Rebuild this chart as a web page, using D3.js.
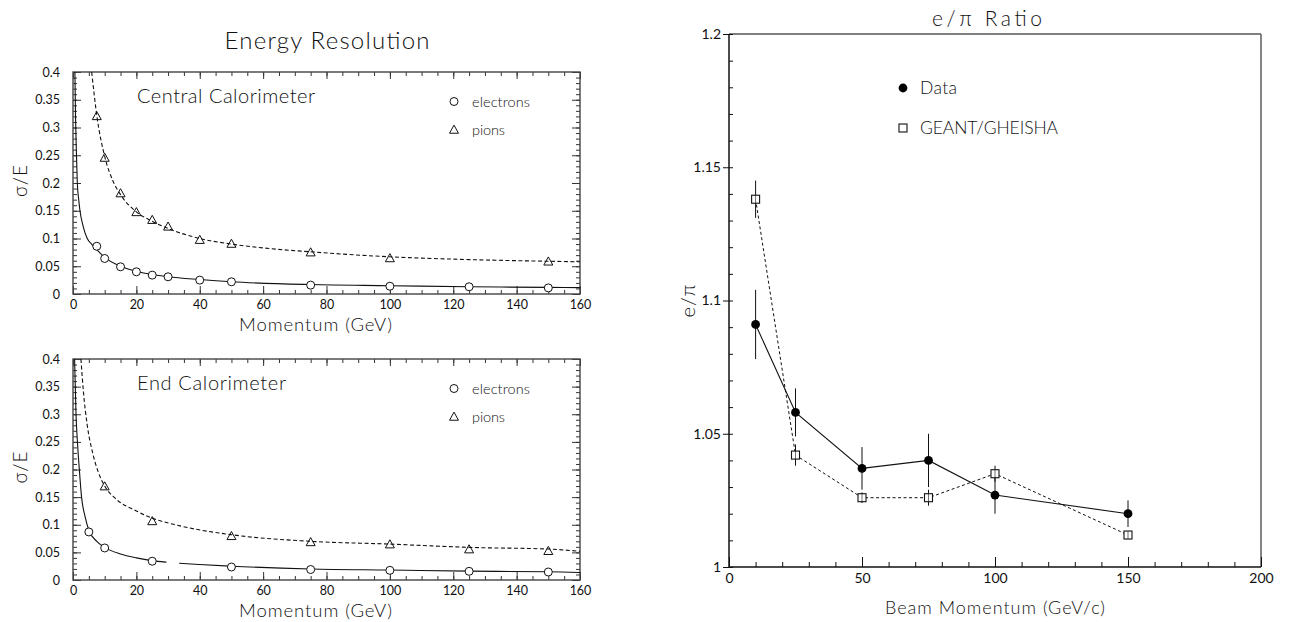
<!DOCTYPE html>
<html>
<head>
<meta charset="utf-8">
<script src="https://cdn.jsdelivr.net/npm/d3@7"></script>
<style>
  html, body { margin: 0; padding: 0; background: #fff; }
  svg { display: block; }
  text { font-family: "Lato", "DejaVu Sans", sans-serif; font-weight: 300; fill: #111; }
</style>
</head>
<body>
<svg id="chart" width="1293" height="622"></svg>
<script>
// ---------------- DATA ----------------
// Energy resolution, Central Calorimeter
const centralElecP   = [7.5, 10, 15, 20, 25, 30, 40, 50, 75, 100, 125, 150];
const centralElecRes = [0.086, 0.064, 0.049, 0.040, 0.034, 0.031, 0.025, 0.022, 0.016, 0.014, 0.013, 0.011];
const centralPionP   = [7.5, 10, 15, 20, 25, 30, 40, 50, 75, 100, 150];
const centralPionRes = [0.320, 0.245, 0.181, 0.147, 0.133, 0.121, 0.097, 0.090, 0.0745, 0.064, 0.058];
// fitted curves
const centralElecFitP = [0.6, 0.8, 1.0, 1.36, 1.8, 2.2, 3.2, 4.5, 6, 7.5, 10, 15, 20, 25, 30, 40, 50, 75, 100, 125, 150, 160];
const centralElecFitR = [0.40, 0.32, 0.27, 0.20, 0.17, 0.15, 0.122, 0.100, 0.089, 0.080, 0.066, 0.050, 0.041, 0.035, 0.031, 0.026, 0.022, 0.017, 0.015, 0.013, 0.012, 0.0115];
const centralPionFitP = [5.9, 7.5, 10, 12.5, 15, 20, 25, 30, 40, 50, 60, 75, 100, 125, 150, 160];
const centralPionFitR = [0.40, 0.322, 0.248, 0.205, 0.179, 0.148, 0.131, 0.118, 0.100, 0.090, 0.083, 0.076, 0.067, 0.062, 0.059, 0.058];

// Energy resolution, End Calorimeter
const endElecP   = [5, 10, 25, 50, 75, 100, 125, 150];
const endElecRes = [0.087, 0.058, 0.034, 0.0235, 0.019, 0.0175, 0.0157, 0.0145];
const endPionP   = [10, 25, 50, 75, 100, 125, 150];
const endPionRes = [0.169, 0.106, 0.079, 0.068, 0.064, 0.055, 0.052];
const endElecFitP = [0.5, 0.95, 1.4, 2.0, 2.7, 3.8, 5, 7.5, 10, 15, 20, 25, 30, 40, 50, 75, 100, 125, 150, 160];
const endElecFitR = [0.40, 0.30, 0.25, 0.20, 0.15, 0.115, 0.090, 0.070, 0.059, 0.047, 0.040, 0.035, 0.032, 0.028, 0.025, 0.020, 0.018, 0.016, 0.015, 0.0135];
const endElecFitGap = [29.5, 33.5];   // small break visible in the solid fit line
const endPionFitP = [2.5, 3.3, 4.5, 6.2, 8, 10, 13.3, 20, 25, 33, 50, 75, 100, 125, 150, 160];
const endPionFitR = [0.40, 0.34, 0.28, 0.23, 0.195, 0.17, 0.148, 0.125, 0.112, 0.099, 0.082, 0.070, 0.065, 0.059, 0.056, 0.052];

// e/pi ratio
const beamMomentum = [10, 25, 50, 75, 100, 150];
const dataRatio    = [1.091, 1.058, 1.037, 1.040, 1.027, 1.020];
const dataErr      = [0.013, 0.009, 0.008, 0.010, 0.007, 0.005];
const geantRatio   = [1.138, 1.042, 1.026, 1.026, 1.035, 1.012];
const geantErr     = [0.007, 0.004, 0.002, 0.003, 0.003, 0.001];

// tick values
const resXMajor = [0, 20, 40, 60, 80, 100, 120, 140, 160];
const resYMajor = [0, 0.05, 0.1, 0.15, 0.2, 0.25, 0.3, 0.35, 0.4];
const resYLabels = ["0", "0.05", "0.1", "0.15", "0.2", "0.25", "0.3", "0.35", "0.4"];
const ratioXMajor = [0, 50, 100, 150, 200];
const ratioYMajor = [1, 1.05, 1.1, 1.15, 1.2];
const ratioYLabels = ["1", "1.05", "1.1", "1.15", "1.2"];

// ---------------- DRAWING ----------------
const svg = d3.select("#chart");
const zip = (a, b) => a.map((v, i) => [v, b[i]]);

function minorTicks(lo, hi, step) {
  const out = [];
  const n = Math.round((hi - lo) / step);
  for (let i = 0; i <= n; i++) out.push(+(lo + i * step).toFixed(6));
  return out;
}

function triangle(g, cx, cy, s) {
  const h = s * 0.9;
  g.append("path")
    .attr("d", `M${cx},${cy - h * 0.6}L${cx + s / 2},${cy + h * 0.4}L${cx - s / 2},${cy + h * 0.4}Z`)
    .attr("fill", "none").attr("stroke", "#111").attr("stroke-width", 1);
}

function label(parent, x, y, str, size, width, anchor) {
  const t = parent.append("text").attr("x", x).attr("y", y).attr("dy", "0.35em")
    .style("font-size", size + "px").text(str);
  if (anchor) t.attr("text-anchor", anchor);
  if (width) t.attr("textLength", width).attr("lengthAdjust", "spacing");
  return t;
}

function resolutionPanel(opt) {
  const x = d3.scaleLinear().domain([0, 160]).range([opt.left, opt.right]);
  const y = d3.scaleLinear().domain([0, 0.4]).range([opt.bottom, opt.top]);
  const g = svg.append("g");

  const xMinor = minorTicks(0, 160, 5);
  const yMinor = minorTicks(0, 0.4, 0.01);
  const axisStyle = sel => {
    sel.select(".domain").remove();
    sel.selectAll(".tick line").attr("stroke", "#333").attr("stroke-width", 1);
    sel.selectAll("text").attr("fill", "#111").style("font-family", "Lato, DejaVu Sans").style("font-weight", 400).style("font-size", "12.5px");
  };

  // minor ticks, all four sides
  g.append("g").attr("transform", `translate(0,${opt.bottom})`)
    .call(d3.axisBottom(x).tickValues(xMinor).tickSize(-4).tickFormat("")).call(axisStyle);
  g.append("g").attr("transform", `translate(0,${opt.top})`)
    .call(d3.axisTop(x).tickValues(xMinor).tickSize(-4).tickFormat("")).call(axisStyle);
  g.append("g").attr("transform", `translate(${opt.left},0)`)
    .call(d3.axisLeft(y).tickValues(yMinor).tickSize(-4).tickFormat("")).call(axisStyle);
  g.append("g").attr("transform", `translate(${opt.right},0)`)
    .call(d3.axisRight(y).tickValues(yMinor).tickSize(-4).tickFormat("")).call(axisStyle);

  // major ticks
  g.append("g").attr("transform", `translate(0,${opt.bottom})`)
    .call(d3.axisBottom(x).tickValues(resXMajor).tickSize(-8).tickPadding(6).tickFormat(d3.format("d"))).call(axisStyle);
  g.append("g").attr("transform", `translate(0,${opt.top})`)
    .call(d3.axisTop(x).tickValues(resXMajor).tickSize(-7).tickFormat("")).call(axisStyle);
  g.append("g").attr("transform", `translate(${opt.left},0)`)
    .call(d3.axisLeft(y).tickValues(resYMajor).tickSize(-8).tickPadding(13).tickFormat((d, i) => resYLabels[i])).call(axisStyle);
  g.append("g").attr("transform", `translate(${opt.right},0)`)
    .call(d3.axisRight(y).tickValues(resYMajor).tickSize(-8).tickFormat("")).call(axisStyle);

  // frame
  g.append("rect").attr("x", opt.left).attr("y", opt.top)
    .attr("width", opt.right - opt.left).attr("height", opt.bottom - opt.top)
    .attr("fill", "none").attr("stroke", "#444").attr("stroke-width", 1.4);

  // clips for curves
  const clipId = "clip" + opt.id;
  svg.append("clipPath").attr("id", clipId).append("rect")
    .attr("x", opt.left).attr("y", opt.top).attr("width", opt.right - opt.left).attr("height", opt.bottom - opt.top);
  const elecClipId = "eclip" + opt.id;
  const ec = svg.append("clipPath").attr("id", elecClipId);
  if (opt.elecGap) {
    ec.append("rect").attr("x", opt.left).attr("y", opt.top)
      .attr("width", x(opt.elecGap[0]) - opt.left).attr("height", opt.bottom - opt.top);
    ec.append("rect").attr("x", x(opt.elecGap[1])).attr("y", opt.top)
      .attr("width", opt.right - x(opt.elecGap[1])).attr("height", opt.bottom - opt.top);
  } else {
    ec.append("rect").attr("x", opt.left).attr("y", opt.top)
      .attr("width", opt.right - opt.left).attr("height", opt.bottom - opt.top);
  }

  const line = d3.line().x(d => x(d[0])).y(d => y(d[1])).curve(d3.curveMonotoneX);
  g.append("path").datum(zip(opt.elecFitP, opt.elecFitR)).attr("d", line)
    .attr("clip-path", `url(#${elecClipId})`)
    .attr("fill", "none").attr("stroke", "#111").attr("stroke-width", 1.1);
  g.append("path").datum(zip(opt.pionFitP, opt.pionFitR)).attr("d", line)
    .attr("clip-path", `url(#${clipId})`)
    .attr("fill", "none").attr("stroke", "#111").attr("stroke-width", 1.1)
    .attr("stroke-dasharray", "4,2.5");

  // markers
  zip(opt.elecP, opt.elecR).forEach(d => {
    g.append("circle").attr("cx", x(d[0])).attr("cy", y(d[1])).attr("r", 4)
      .attr("fill", "#fff").attr("stroke", "#111").attr("stroke-width", 1);
  });
  zip(opt.pionP, opt.pionR).forEach(d => triangle(g, x(d[0]), y(d[1]), 9));

  // labels
  label(g, opt.left + 64, opt.top + 24, opt.label, 20, opt.labelWidth);
  g.append("circle").attr("cx", 454).attr("cy", opt.top + 29.5).attr("r", 4)
    .attr("fill", "#fff").attr("stroke", "#111");
  label(g, 472, opt.top + 29.5, "electrons", 14.5, 58);
  triangle(g, 454, opt.top + 58, 9);
  label(g, 472, opt.top + 58, "pions", 14.5, 33);

  label(g, (opt.left + opt.right) / 2 - 11, opt.bottom + 31, "Momentum (GeV)", 18.5, 153, "middle");
  g.append("text").attr("transform", `translate(20,${(opt.top + opt.bottom) / 2 - 2}) rotate(-90)`)
    .attr("text-anchor", "middle").attr("dy", "0.35em").style("font-size", "19px")
    .attr("textLength", 32).attr("lengthAdjust", "spacing").text("σ/E");
}

label(svg, 327, 41, "Energy Resolution", 24, 205, "middle");

resolutionPanel({
  id: "c", left: 73, right: 580, top: 72, bottom: 294, label: "Central Calorimeter", labelWidth: 178,
  elecP: centralElecP, elecR: centralElecRes, pionP: centralPionP, pionR: centralPionRes,
  elecFitP: centralElecFitP, elecFitR: centralElecFitR, pionFitP: centralPionFitP, pionFitR: centralPionFitR
});
resolutionPanel({
  id: "e", left: 73, right: 580, top: 359, bottom: 580, label: "End Calorimeter", labelWidth: 149,
  elecP: endElecP, elecR: endElecRes, pionP: endPionP, pionR: endPionRes,
  elecFitP: endElecFitP, elecFitR: endElecFitR, pionFitP: endPionFitP, pionFitR: endPionFitR,
  elecGap: endElecFitGap
});

// ---------------- e/pi ratio panel ----------------
(function () {
  const L = 729, R = 1261, T = 34, B = 567;
  const x = d3.scaleLinear().domain([0, 200]).range([L, R]);
  const y = d3.scaleLinear().domain([1, 1.2]).range([B, T]);
  const g = svg.append("g");
  const axisStyle = sel => {
    sel.select(".domain").remove();
    sel.selectAll(".tick line").attr("stroke", "#111").attr("stroke-width", 1);
    sel.selectAll("text").attr("fill", "#111").style("font-family", "Lato, DejaVu Sans").style("font-weight", 400).style("font-size", "14px");
  };

  // frame: top and right lighter
  g.append("line").attr("x1", L).attr("x2", R).attr("y1", T).attr("y2", T).attr("stroke", "#555").attr("stroke-width", 1.4);
  g.append("line").attr("x1", R).attr("x2", R).attr("y1", T).attr("y2", B).attr("stroke", "#666").attr("stroke-width", 1.6);

  g.append("g").attr("transform", `translate(0,${B})`)
    .call(d3.axisBottom(x).tickValues(minorTicks(0, 200, 10)).tickSize(-5).tickFormat("")).call(axisStyle);
  g.append("g").attr("transform", `translate(0,${B})`)
    .call(d3.axisBottom(x).tickValues(ratioXMajor).tickSize(-10).tickPadding(6).tickFormat(d3.format("d"))).call(axisStyle);
  g.append("g").attr("transform", `translate(${L},0)`)
    .call(d3.axisLeft(y).tickValues(minorTicks(1, 1.2, 0.01)).tickSize(-4).tickFormat("")).call(axisStyle);
  g.append("g").attr("transform", `translate(${L},0)`)
    .call(d3.axisLeft(y).tickValues(ratioYMajor).tickSize(6).tickPadding(2).tickFormat((d, i) => ratioYLabels[i])).call(axisStyle);

  g.append("line").attr("x1", L).attr("x2", L).attr("y1", T).attr("y2", B).attr("stroke", "#111").attr("stroke-width", 1.5);
  g.append("line").attr("x1", L).attr("x2", R).attr("y1", B).attr("y2", B).attr("stroke", "#111").attr("stroke-width", 1.5);

  const line = d3.line().x(d => x(d[0])).y(d => y(d[1]));
  g.append("path").datum(zip(beamMomentum, geantRatio)).attr("d", line)
    .attr("fill", "none").attr("stroke", "#111").attr("stroke-width", 1).attr("stroke-dasharray", "3,2.5");
  g.append("path").datum(zip(beamMomentum, dataRatio)).attr("d", line)
    .attr("fill", "none").attr("stroke", "#111").attr("stroke-width", 1.1);

  beamMomentum.forEach((m, i) => {
    g.append("line").attr("x1", x(m)).attr("x2", x(m))
      .attr("y1", y(dataRatio[i] - dataErr[i])).attr("y2", y(dataRatio[i] + dataErr[i]))
      .attr("stroke", "#111").attr("stroke-width", 1);
    g.append("line").attr("x1", x(m)).attr("x2", x(m))
      .attr("y1", y(geantRatio[i] - geantErr[i])).attr("y2", y(geantRatio[i] + geantErr[i]))
      .attr("stroke", "#111").attr("stroke-width", 1);
  });
  beamMomentum.forEach((m, i) => {
    g.append("rect").attr("x", x(m) - 4).attr("y", y(geantRatio[i]) - 4).attr("width", 8).attr("height", 8)
      .attr("fill", "#fff").attr("stroke", "#111").attr("stroke-width", 1.1);
    g.append("line").attr("x1", x(m)).attr("x2", x(m))
      .attr("y1", y(geantRatio[i]) - 4).attr("y2", y(geantRatio[i]) + 4).attr("stroke", "#111").attr("stroke-width", 0.6);
    g.append("circle").attr("cx", x(m)).attr("cy", y(dataRatio[i])).attr("r", 4.4).attr("fill", "#000");
  });

  // legend
  g.append("circle").attr("cx", 903).attr("cy", 88).attr("r", 4.4).attr("fill", "#000");
  label(g, 920, 88, "Data", 17.5, 37);
  g.append("rect").attr("x", 899).attr("y", 124).attr("width", 8).attr("height", 8)
    .attr("fill", "#fff").attr("stroke", "#111").attr("stroke-width", 1.1);
  label(g, 920, 128, "GEANT/GHEISHA", 17.5, 138);

  label(svg, 987, 19, "e/π Ratio", 21, 110, "middle");
  label(svg, 995, 608, "Beam Momentum (GeV/c)", 18, 220, "middle");
  svg.append("text").attr("transform", `translate(688,301) rotate(-90)`).attr("dy", "0.35em")
    .attr("text-anchor", "middle").style("font-size", "20px")
    .attr("textLength", 33).attr("lengthAdjust", "spacing").text("e/π");
})();
</script>
</body>
</html>
